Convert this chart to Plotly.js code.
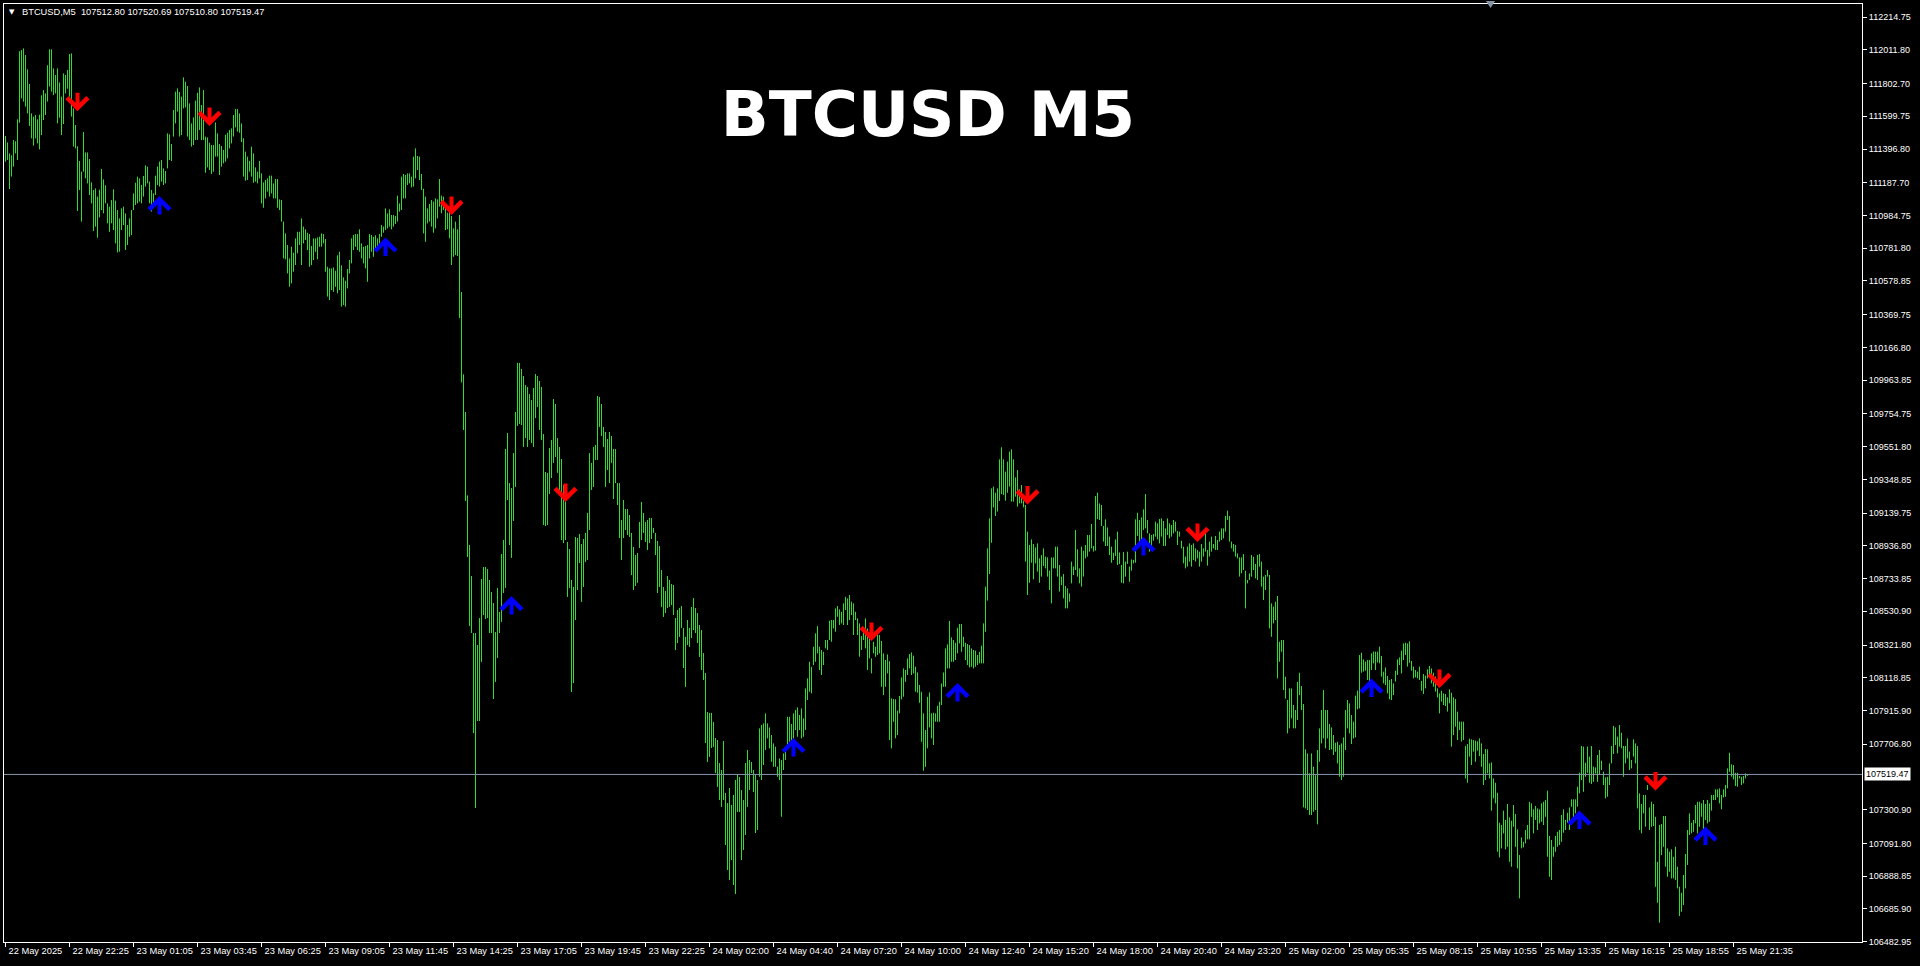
<!DOCTYPE html>
<html>
<head>
<meta charset="utf-8">
<script src="https://cdn.plot.ly/plotly-3.0.1.min.js"></script>
<style>html,body{margin:0;padding:0;background:#000;}#chart{width:1920px;height:966px;}</style>
</head>
<body>
<div id="chart"></div>
<script>
// ---- data ----
const symbolName = "BTCUSD,M5";
const chartTitle = "BTCUSD M5";
const lastOHLC = [107512.80, 107520.69, 107510.80, 107519.47];
const lastPrice = 107519.47;

const timeLabels = ["22 May 2025","22 May 22:25","23 May 01:05","23 May 03:45","23 May 06:25","23 May 09:05","23 May 11:45","23 May 14:25","23 May 17:05","23 May 19:45","23 May 22:25","24 May 02:00","24 May 04:40","24 May 07:20","24 May 10:00","24 May 12:40","24 May 15:20","24 May 18:00","24 May 20:40","24 May 23:20","25 May 02:00","25 May 05:35","25 May 08:15","25 May 10:55","25 May 13:35","25 May 16:15","25 May 18:55","25 May 21:35"];
const timeLabelBars = [0,32,64,96,128,160,192,224,256,288,320,352,384,416,448,480,512,544,576,608,640,672,704,736,768,800,832,864];

const priceTicks = [112214.75,112011.80,111802.70,111599.75,111396.80,111187.70,110984.75,110781.80,110578.85,110369.75,110166.80,109963.85,109754.75,109551.80,109348.85,109139.75,108936.80,108733.85,108530.90,108321.80,108118.85,107915.90,107706.80,107300.90,107091.80,106888.85,106685.90,106482.95];

const highs = [
111478,111438,111370,111358,111453,111445,111581,112003,112011,112021,
111980,111891,111800,111618,111598,111608,111581,111610,111730,111763,
111742,111916,112015,112015,111897,111856,111897,111810,111722,111866,
111856,111887,111986,111990,111649,111546,111414,111323,111257,111502,
111376,111376,111335,111190,111143,111153,111102,111145,111273,111209,
111172,111060,111040,111081,111147,111077,111019,110967,111029,111040,
110998,110926,110967,111019,111122,111188,111226,111215,111174,111230,
111296,111288,111195,111143,111122,111232,111288,111319,111329,111277,
111261,111494,111488,111428,111639,111753,111773,111751,111722,111841,
111815,111788,111680,111556,111593,111697,111746,111779,111670,111763,
111474,111469,111436,111422,111422,111562,111494,111428,111416,111391,
111486,111498,111515,111525,111608,111645,111645,111618,111556,111463,
111381,111350,111323,111412,111370,111283,111257,111323,111246,111190,
111205,111215,111232,111232,111184,111211,111211,111085,111081,110947,
110874,110802,110719,110791,110754,110843,110884,110884,110967,110916,
110899,110878,110870,110796,110843,110843,110849,110853,110874,110870,
110839,110667,110657,110657,110663,110643,110738,110760,110676,110601,
110581,110653,110709,110843,110864,110870,110870,110899,110812,110791,
110796,110802,110870,110864,110853,110862,110843,110870,110926,110916,
111029,110998,111023,110988,110988,110982,111108,111060,111226,111242,
111236,111246,111246,111226,111350,111401,111354,111350,111242,111151,
111102,111029,111056,111081,111071,111091,111085,111211,111108,111102,
111060,111002,111015,110982,110905,110947,110899,110988,110511,110000,
109767,109250,108942,108750,108396,108396,108322,108489,108731,108806,
108806,108793,108725,108651,108582,108403,108676,108527,108886,108973,
109537,109636,109326,109295,109512,109767,110071,110071,110033,109990,
109934,109922,109878,109841,109915,110002,109990,109959,109922,109630,
109395,109389,109543,109593,109847,109816,109605,109550,109475,109314,
109221,108961,108917,108725,108682,108992,108986,109010,108948,108979,
109017,109141,109512,109451,109550,109562,109866,109860,109816,109674,
109643,109599,109643,109618,109537,109537,109326,109326,109097,109221,
109165,109165,109128,109017,108930,108880,108893,109085,109209,109141,
109085,109097,109110,109110,109048,109017,108967,108936,108787,108682,
108657,108750,108725,108700,108694,108489,108539,108551,108564,108428,
108372,108477,108428,108558,108613,108551,108520,108446,108415,108272,
108148,107907,107901,107901,107845,107745,107733,107590,107547,107727,
107405,107342,107435,107330,107392,107485,107516,107504,107423,107361,
107590,107671,107609,107597,107547,107516,107485,107805,107826,107836,
107898,107836,107811,107764,107712,107691,107567,107619,107609,107650,
107691,107877,107877,107832,107898,107919,107935,107888,107929,107867,
108053,108115,108218,108187,108311,108394,108439,108311,108291,108280,
108353,108353,108473,108477,108477,108549,108564,108543,108528,108580,
108621,108611,108632,108590,108580,108528,108487,108456,108377,108404,
108487,108425,108363,108239,108342,108311,108394,108384,108347,108270,
108229,108264,108222,107991,107987,107985,107915,108006,108121,108177,
108167,108239,108266,108276,108256,108187,108152,108074,108032,107898,
107795,108001,108028,107898,107902,107898,107946,107970,108084,108152,
108301,108326,108471,108369,108353,108336,108429,108452,108452,108373,
108336,108328,108322,108301,108291,108287,108260,108280,108318,108456,
108684,108921,109107,109293,109304,109266,109293,109473,109548,109473,
109397,109459,109521,109535,109473,109361,109407,109287,109314,109217,
109190,109025,108942,108977,108948,108927,108952,108859,108880,108921,
108870,108865,108783,108865,108865,108932,108932,108818,108746,108762,
108688,108673,108642,108839,108808,109035,108915,108797,108932,108907,
108942,109004,109004,109072,108936,109246,109266,109200,109190,109060,
109101,109051,108994,108932,108894,108977,109025,108896,108818,108898,
108839,108901,108808,108853,108849,109101,109142,109097,109113,109163,
109258,109097,109014,109004,109010,109087,109076,109103,109107,109091,
109045,109107,109076,109066,109097,109087,109029,109025,108969,108932,
108870,108932,108952,108942,108952,108921,108911,108901,108948,108921,
109039,108911,108963,108994,108948,108998,108973,109025,109045,109045,
109122,109155,109122,108963,108948,108942,108890,108865,108865,108886,
108783,108725,108766,108880,108870,108824,108880,108886,108839,108746,
108756,108787,108756,108580,108560,108590,108626,108342,108353,108353,
108125,107981,108053,108053,107950,107919,108094,108150,108068,107956,
107675,107650,107526,107650,107567,107515,107671,107805,107919,108043,
107919,107919,107832,107811,107764,107716,107722,107702,107712,107749,
107919,107981,107960,107888,107847,108008,108039,108260,108274,108233,
108219,108229,108229,108270,108281,108281,108281,108312,108254,108157,
108183,108130,108105,108111,108084,108163,108233,108245,108287,108332,
108336,108332,108345,108223,108188,108167,108157,108188,108099,108142,
108132,108171,108192,108177,108150,108126,108053,108022,108039,108022,
108018,107997,108047,108026,107997,107987,107909,107847,107847,107847,
107696,107708,107741,107737,107733,107729,107725,107743,107712,107646,
107677,107675,107588,107594,107495,107468,107406,107220,107206,107295,
107237,107336,107253,107233,107330,107274,107179,107020,107129,107102,
107175,107206,107350,107340,107303,107324,107309,107303,107340,107350,
107361,107419,107138,107113,107071,107138,107164,107175,107268,107303,
107237,107282,107315,107365,107365,107365,107443,107530,107696,107692,
107592,107692,107630,107696,107568,107563,107640,107671,107605,107537,
107501,107505,107588,107696,107820,107811,107754,107826,107778,107696,
107696,107743,107661,107609,107737,107712,107696,107402,107336,107392,
107392,107454,107315,107350,107336,107257,106978,107206,107212,107262,
107262,107061,107040,107055,107009,107071,106947,106823,106786,106896,
107026,107175,107278,107220,107237,107330,107350,107350,107340,107361,
107336,107361,107340,107392,107392,107427,107427,107433,107392,107427,
107454,107557,107654,107582,107578,107530,107530,107510,107505,107510,
107526,107521
];

const lows = [
111319,111329,111149,111226,111288,111370,111329,111560,111711,111691,
111660,111618,111540,111463,111418,111463,111432,111395,111484,111577,
111608,111691,111784,111753,111732,111742,111556,111591,111484,111552,
111742,111771,111722,111598,111412,111401,111013,111143,110947,111257,
111215,111184,111112,111060,110889,110916,110847,110973,111019,110998,
111060,110936,110884,110936,110895,110812,110756,110760,110895,110926,
110771,110802,110853,110864,111019,111050,111060,111071,111060,111102,
111164,111184,111060,111009,111040,111112,111174,111164,111195,111174,
111184,111277,111329,111323,111474,111556,111629,111474,111484,111649,
111655,111474,111453,111412,111422,111453,111453,111515,111453,111453,
111250,111283,111267,111242,111257,111350,111350,111236,111288,111308,
111319,111339,111401,111432,111474,111531,111505,111498,111440,111226,
111201,111205,111257,111226,111188,111195,111184,111215,111060,111033,
111091,111133,111102,111122,111091,111091,111033,111019,110947,110719,
110713,110626,110543,110564,110636,110678,110750,110802,110678,110812,
110833,110771,110667,110678,110709,110760,110713,110791,110791,110812,
110636,110482,110461,110523,110512,110543,110502,110523,110420,110430,
110420,110533,110626,110688,110771,110791,110771,110760,110719,110688,
110657,110574,110719,110760,110729,110771,110791,110812,110853,110878,
110895,110905,110916,110899,110916,110932,110947,111009,111019,111091,
111091,111174,111184,111159,111164,111215,111267,111205,111143,110874,
110822,110936,110947,110916,110878,110905,110967,111040,110998,111019,
110895,110899,110843,110678,110729,110740,110734,110349,109950,109655,
109215,108868,108440,108396,107776,107311,107851,107851,108217,108508,
108483,108489,108396,108396,107987,108093,108241,108396,108465,108644,
108676,109221,108942,108862,109091,109302,109680,109692,109686,109550,
109605,109550,109593,109574,109550,109729,109798,109655,109593,109066,
109060,109066,109258,109357,109451,109488,109389,109264,108973,108954,
108973,108620,108676,108031,108086,108477,108663,108830,108589,108682,
108837,108849,109035,109283,109302,109469,109469,109674,109618,109550,
109302,109407,109326,109451,109227,109326,109190,108985,108849,108985,
109035,109004,108992,108756,108663,108688,108707,108923,108973,109017,
108961,108911,108954,108979,109017,108880,108644,108682,108558,108496,
108520,108551,108558,108570,108508,108291,108334,108372,108428,108179,
108062,108322,108310,108365,108415,108396,108334,108248,108167,108105,
107714,107597,107628,107683,107690,107528,107442,107361,107318,107361,
107082,106927,106865,106989,106834,106778,107287,107287,106989,107051,
107144,107318,107423,107528,107411,107156,107175,107505,107485,107578,
107671,107743,107681,107598,107567,107567,107505,107485,107257,107547,
107609,107691,107722,107702,107722,107795,107753,107795,107743,107753,
107795,107981,108032,108022,108198,108218,108270,108167,108136,108198,
108301,108291,108353,108342,108425,108404,108497,108446,108456,108446,
108539,108446,108477,108508,108384,108477,108384,108249,108291,108353,
108301,108167,108239,108146,108270,108249,108260,108270,108063,108012,
108063,108146,107733,107681,107846,107743,107764,107898,107985,108001,
108094,108136,108177,108136,108146,108032,108026,107964,107722,107542,
107567,107681,107811,107743,107702,107846,107846,107846,107950,108063,
108063,108177,108177,108218,108218,108229,108270,108332,108280,108311,
108229,108198,108183,108187,108177,108187,108198,108208,108208,108208,
108404,108597,108762,108956,109175,109122,109149,109215,109258,109252,
109217,109266,109304,109211,109211,109242,109180,109200,109200,109175,
108839,108632,108708,108832,108729,108828,108777,108708,108746,108812,
108797,108746,108663,108580,108797,108797,108746,108653,108694,108611,
108549,108549,108590,108704,108756,108787,108746,108704,108684,108746,
108859,108870,108901,108921,108901,108907,109103,109097,109060,108963,
108936,108936,108880,108832,108849,108874,108818,108824,108708,108704,
108746,108824,108714,108783,108828,108832,108998,108956,108973,109035,
109045,109014,108901,108936,108969,108994,108977,108952,108994,108936,
108936,109004,108983,108994,109014,109025,108942,108994,108921,108828,
108797,108808,108839,108808,108849,108839,108859,108808,108839,108870,
108901,108814,108870,108901,108921,108911,108911,108963,108973,108983,
109025,109097,108963,108921,108901,108870,108859,108746,108766,108787,
108549,108704,108725,108746,108787,108735,108725,108808,108684,108601,
108663,108746,108425,108373,108456,108477,108115,108218,108280,108043,
107990,107774,107805,107867,107805,107805,107857,108012,107919,107315,
107309,107299,107268,107268,107288,107299,107210,107598,107712,107743,
107681,107743,107671,107675,107640,107660,107588,107505,107485,107505,
107671,107805,107774,107708,107743,107749,107923,107929,108150,108157,
108163,108105,108095,108167,108208,108167,108214,108208,108126,108084,
108074,108022,107985,107981,108012,108095,108136,108198,108146,108229,
108260,108188,108212,108163,108115,108121,108115,108105,108039,108018,
108053,108115,108136,108084,108064,108033,107997,107898,107971,107950,
107944,107909,107960,107692,107764,107816,107733,107795,107723,107733,
107495,107468,107630,107578,107661,107598,107667,107634,107567,107454,
107485,107526,107495,107295,107371,107340,107040,107005,107061,107154,
107055,107071,106978,106947,107195,107071,106937,106751,107061,107067,
107092,107117,107117,107257,107154,107237,107175,107216,107226,107206,
107257,107009,106885,106865,107009,107040,107071,107082,107102,107158,
107175,107220,107175,107319,107247,107278,107319,107402,107485,107412,
107505,107530,107468,107460,107474,107526,107474,107516,107547,107454,
107371,107381,107454,107588,107646,107702,107650,107692,107681,107505,
107588,107619,107547,107557,107630,107588,107309,107175,107154,107278,
107195,107423,107175,107195,107200,106823,106724,106600,107020,107071,
106947,106885,106916,106875,106875,106865,106813,106641,106668,106710,
106813,106958,107144,107154,107164,107216,107154,107195,107257,107175,
107237,107216,107226,107295,107361,107361,107377,107340,107303,107377,
107381,107433,107536,107506,107489,107448,107443,107495,107454,107464,
107495,107511
];

// indicator arrows: bar index and price at the arrow tip
const sellBars  = [36, 102, 223, 280, 433, 511, 596, 717, 825];
const sellPrice = [111632, 111540, 110988, 109209, 108347, 109193, 108961, 108055, 107420];
const buyBars   = [77, 190, 253, 394, 476, 569, 683, 787, 850];
const buyPrice  = [111106, 110849, 108626, 107746, 108086, 108992, 108114, 107296, 107197];

// ---- build the chart ----
const bx = [], by = [];
for (let i = 0; i < highs.length; i++) {
  bx.push(i, i, null);
  by.push(lows[i], highs[i], null);
}

const fam = "'Liberation Sans', Arial, sans-serif";
const xFont = {family: fam, size: 9.3, color: '#ffffff'};
const yFont = {family: fam, size: 9, color: '#ffffff'};

const annotations = [];
for (let k = 0; k < sellBars.length; k++) {
  annotations.push({x: sellBars[k], y: sellPrice[k], xref: 'x', yref: 'y', text: '', showarrow: true,
    ax: 0, ay: -20, arrowhead: 4, arrowsize: 1.0, arrowwidth: 4, arrowcolor: '#ff0000', standoff: 0});
}
for (let k = 0; k < buyBars.length; k++) {
  annotations.push({x: buyBars[k], y: buyPrice[k], xref: 'x', yref: 'y', text: '', showarrow: true,
    ax: 0, ay: 20, arrowhead: 4, arrowsize: 1.0, arrowwidth: 4, arrowcolor: '#0000ff', standoff: 0});
}
annotations.push({xref: 'paper', yref: 'y', x: 1, y: lastPrice, xanchor: 'left', yanchor: 'middle', xshift: 2,
  text: lastPrice.toFixed(2), showarrow: false, bgcolor: '#ffffff', borderpad: 1,
  font: {family: fam, size: 9, color: '#000000'}});
annotations.push({xref: 'paper', yref: 'paper', x: 0.0043, y: 0.9915, xanchor: 'center', yanchor: 'middle',
  text: '▼', showarrow: false, font: {family: 'DejaVu Sans', size: 7, color: '#ffffff'}});
annotations.push({xref: 'paper', yref: 'paper', x: 0.0088, y: 0.9915, xanchor: 'left', yanchor: 'middle',
  text: symbolName + '  ' + lastOHLC.map(v => v.toFixed(2)).join(' '), showarrow: false,
  font: {family: fam, size: 9.3, color: '#ffffff'}});

const traces = [{
  type: 'scatter', mode: 'lines', x: bx, y: by, connectgaps: false,
  line: {color: '#2fdc2f', width: 1}, hoverinfo: 'skip', showlegend: false
}];

const layout = {
  width: 1920, height: 966,
  paper_bgcolor: '#000000', plot_bgcolor: '#000000',
  margin: {l: 4, r: 58, t: 4, b: 24, pad: 0},
  showlegend: false,
  title: {text: chartTitle, x: 0.4833, xref: 'container', xanchor: 'center', y: 0.882, yref: 'container', yanchor: 'middle',
    font: {family: 'DejaVu Sans', size: 63, color: '#ffffff', weight: 'bold'}},
  xaxis: {
    range: [-0.75, 928.25], showgrid: false, zeroline: false, fixedrange: true,
    tickmode: 'array', tickvals: timeLabelBars, ticktext: timeLabels, tickangle: 0,
    ticks: 'outside', ticklen: 4, tickcolor: '#ffffff', tickwidth: 1,
    ticklabelposition: 'outside right', ticklabelshift: 2, tickfont: xFont,
    showline: true, linecolor: '#ffffff', linewidth: 1, mirror: true
  },
  yaxis: {
    side: 'right', range: [106480.6, 112296.2], showgrid: false, zeroline: false, fixedrange: true,
    tickmode: 'array', tickvals: priceTicks, tickformat: '.2f',
    ticks: 'outside', ticklen: 4, tickcolor: '#ffffff', tickwidth: 1, tickfont: yFont,
    showline: true, linecolor: '#ffffff', linewidth: 1, mirror: true
  },
  shapes: [
    {type: 'line', xref: 'paper', yref: 'y', x0: 0, x1: 1, y0: lastPrice, y1: lastPrice,
     line: {color: '#8595a8', width: 1}},
    {type: 'path', xref: 'paper', yref: 'paper', path: 'M 0.7976 1.0032 L 0.8025 1.0032 L 0.8001 0.9957 Z',
     fillcolor: '#8595a8', line: {width: 0}}
  ],
  annotations: annotations
};

Plotly.newPlot('chart', traces, layout, {displayModeBar: false, staticPlot: true});
</script>
</body>
</html>
